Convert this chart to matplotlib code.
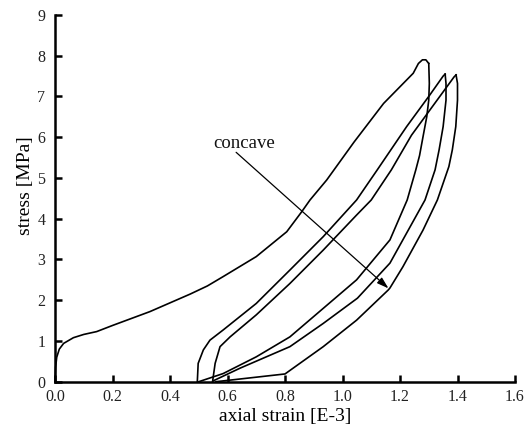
import matplotlib
matplotlib.use("Agg")
import matplotlib.pyplot as plt

plt.rcParams['font.family'] = ['Liberation Serif', 'DejaVu Serif']

# Initial loading curve (loop 1 loading)
load1_x = [0.0, 0.002, 0.006, 0.015, 0.03, 0.064, 0.10, 0.145, 0.20, 0.33, 0.47, 0.53,
           0.585, 0.70, 0.806, 0.858, 0.887, 0.945, 1.04, 1.143, 1.246, 1.264, 1.278, 1.290, 1.300]
load1_y = [0.0, 0.35, 0.60, 0.80, 0.94, 1.08, 1.16, 1.23, 1.38, 1.72, 2.15, 2.35,
           2.58, 3.07, 3.68, 4.17, 4.46, 4.95, 5.88, 6.83, 7.57, 7.81, 7.90, 7.90, 7.81]
# Loop 1 unloading
unload1_x = [1.300, 1.302, 1.300, 1.293, 1.280, 1.268, 1.255, 1.225, 1.165, 1.049, 0.933, 0.817, 0.70, 0.585, 0.50]
unload1_y = [7.81, 7.32, 6.91, 6.50, 6.01, 5.55, 5.20, 4.46, 3.48, 2.50, 1.80, 1.10, 0.61, 0.20, 0.0]
# Loop 2 reloading
load2_x = [0.495, 0.498, 0.516, 0.539, 0.585, 0.70, 0.817, 0.933, 1.049, 1.121, 1.223, 1.304, 1.350, 1.357]
load2_y = [0.0, 0.45, 0.78, 1.02, 1.27, 1.92, 2.74, 3.56, 4.46, 5.20, 6.26, 7.04, 7.50, 7.55]
# Loop 2 unloading
unload2_x = [1.357, 1.360, 1.360, 1.350, 1.336, 1.322, 1.287, 1.165, 1.052, 0.933, 0.817, 0.643, 0.55]
unload2_y = [7.55, 7.32, 6.91, 6.26, 5.69, 5.20, 4.46, 2.91, 2.05, 1.43, 0.86, 0.33, 0.02]
# Loop 3 reloading
load3_x = [0.548, 0.557, 0.574, 0.609, 0.70, 0.817, 0.933, 1.049, 1.10, 1.170, 1.240, 1.388, 1.395]
load3_y = [0.0, 0.45, 0.86, 1.10, 1.64, 2.41, 3.23, 4.09, 4.46, 5.20, 6.05, 7.48, 7.53]
# Loop 3 unloading
unload3_x = [1.395, 1.400, 1.400, 1.394, 1.382, 1.370, 1.330, 1.280, 1.210, 1.165, 1.159, 1.049, 0.933, 0.80, 0.56]
unload3_y = [7.53, 7.32, 6.91, 6.26, 5.69, 5.28, 4.46, 3.72, 2.82, 2.30, 2.25, 1.51, 0.86, 0.19, 0.0]

x_ticks = [0.0, 0.2, 0.4, 0.6, 0.8, 1.0, 1.2, 1.4, 1.6]
y_ticks = [0, 1, 2, 3, 4, 5, 6, 7, 8, 9]

fig = plt.figure(figsize=(5.30, 4.28), dpi=100)
ax = fig.add_axes([55 / 530, (428 - 381.7) / 428, 460 / 530, 366.7 / 428])

for xs, ys in [(load1_x, load1_y), (unload1_x, unload1_y), (load2_x, load2_y),
               (unload2_x, unload2_y), (load3_x, load3_y), (unload3_x, unload3_y)]:
    ax.plot(xs, ys, color='black', lw=1.2, solid_joinstyle='round', clip_on=False)

ax.annotate('', xy=(1.16, 2.29), xytext=(0.63, 5.63),
            arrowprops=dict(arrowstyle='-|>,head_length=0.7,head_width=0.22', color='black', lw=0.9,
                            shrinkA=0, shrinkB=0))
ax.text(0.55, 5.74, 'concave', fontsize=13.5, ha='left', va='baseline', color='#111')

ax.set_xlim(0, 1.6)
ax.set_ylim(0, 9)
ax.set_xticks(x_ticks)
ax.set_xticklabels([f'{v:.1f}' for v in x_ticks])
ax.set_yticks(y_ticks)
ax.set_yticklabels([str(v) for v in y_ticks])
for s in ['top', 'right']:
    ax.spines[s].set_visible(False)
for s in ['left', 'bottom']:
    ax.spines[s].set_linewidth(1.8)
ax.tick_params(direction='in', length=5, width=1.8, labelsize=11.5, colors='black', labelcolor='#222')
ax.tick_params(axis='x', pad=5)
ax.tick_params(axis='y', pad=7)
ax.set_xlabel('axial strain [E-3]', fontsize=14)
ax.set_ylabel('stress [MPa]', fontsize=14)
ax.xaxis.set_label_coords(0.5, -0.071)
ax.yaxis.set_label_coords(-0.045, 0.536)

fig.savefig('out.png', dpi=100)
